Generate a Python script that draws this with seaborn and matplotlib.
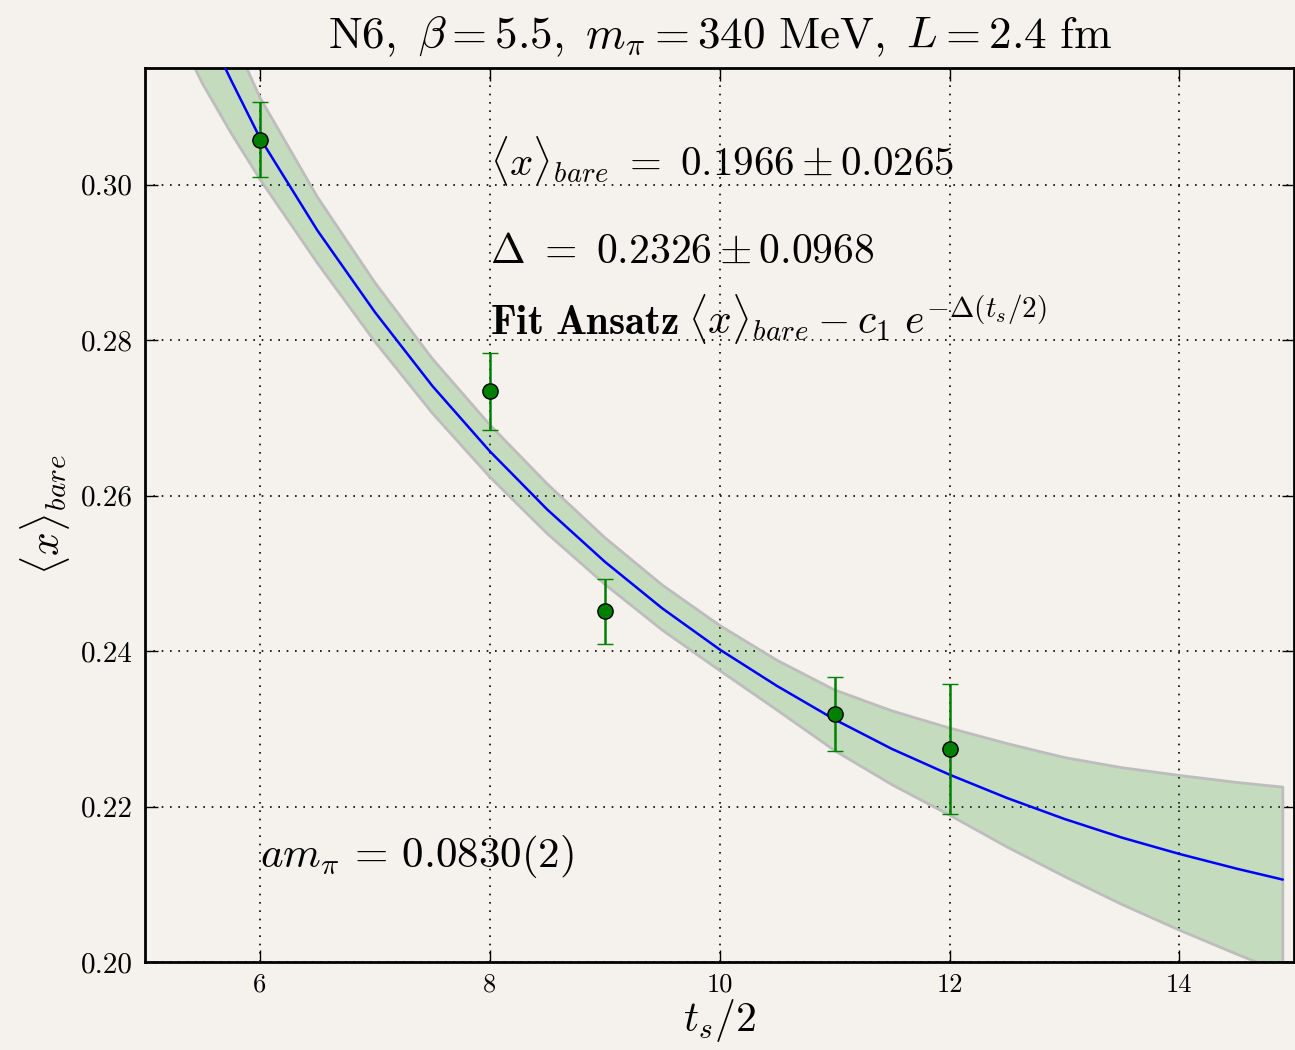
import numpy as np
import pandas as pd
import matplotlib
matplotlib.use("Agg")
import matplotlib.pyplot as plt
import seaborn as sns

# ---- data ----
ts_points = [6, 8, 9, 11, 12]
x_points = [0.3058, 0.2734, 0.2451, 0.2319, 0.2274]
x_errors = [0.0048, 0.0049, 0.0042, 0.0047, 0.0084]

t_curve = [5.25, 5.5, 5.75, 6.0, 6.5, 7.0, 7.5, 8.0, 8.5, 9.0, 9.5, 10.0,
           10.5, 11.0, 11.5, 12.0, 12.5, 13.0, 13.5, 14.0, 14.5, 14.9]
fit_curve = [0.3280, 0.3210, 0.3134, 0.3060, 0.2941, 0.2836, 0.2741, 0.2657, 0.2582, 0.2515,
             0.2455, 0.2402, 0.2355, 0.2312, 0.2274, 0.2241, 0.2211, 0.2184, 0.2160, 0.2139,
             0.2120, 0.2106]
band_upper = [0.3360, 0.3280, 0.3194, 0.3112, 0.2984, 0.2874, 0.2776, 0.2691, 0.2615, 0.2546,
              0.2485, 0.2433, 0.2388, 0.2350, 0.2323, 0.2301, 0.2281, 0.2263, 0.2250, 0.2240,
              0.2231, 0.2225]
band_lower = [0.3205, 0.3130, 0.3066, 0.3007, 0.2899, 0.2798, 0.2706, 0.2624, 0.2551, 0.2486,
              0.2427, 0.2375, 0.2324, 0.2272, 0.2228, 0.2189, 0.2148, 0.2110, 0.2074, 0.2041,
              0.2010, 0.1986]

x_ticks = [6, 8, 10, 12, 14]
y_ticks = [0.20, 0.22, 0.24, 0.26, 0.28, 0.30]
y_tick_labels = ["0.20", "0.22", "0.24", "0.26", "0.28", "0.30"]

title = r"$\mathrm{N6,}\ \beta=5.5,\ m_\pi=340\ \mathrm{MeV},\ L=2.4\ \mathrm{fm}$"
text_x = r"$\langle x\rangle_{bare}\ \mathbf{=\ 0.1966}\pm\mathbf{0.0265}$"
text_delta = r"$\mathbf{\Delta\ =\ 0.2326}\pm\mathbf{0.0968}$"
text_fit_a = r"$\mathbf{Fit\ Ansatz}$"
text_fit_b = r"$\langle x\rangle_{bare}-c_1\ e^{-\Delta(t_s/2)}$"
text_mass = r"$am_\pi\,=\,0.0830(2)$"

# ---- style ----
bg = "#f5f2ed"
sns.set_theme(style="ticks")
plt.rcParams.update({
    "font.family": ["serif"],
    "font.serif": ["cmr10", "DejaVu Serif"],
    "mathtext.fontset": "cm",
    "axes.formatter.use_mathtext": True,
    "figure.facecolor": bg,
    "axes.facecolor": bg,
    "savefig.facecolor": bg,
    "text.color": "black",
    "axes.labelcolor": "black",
    "xtick.color": "black",
    "ytick.color": "black",
})

fig = plt.figure(figsize=(12.95, 10.5), dpi=100)
ax = fig.add_axes([0.112, 0.0838, 0.8875, 0.8514])

ax.fill_between(t_curve, band_lower, band_upper, facecolor=(0.0, 0.5, 0.0, 0.2),
                edgecolor="#bdbdbd", linewidth=2.0, zorder=2)

df_curve = pd.DataFrame({"t": t_curve, "x": fit_curve})
sns.lineplot(data=df_curve, x="t", y="x", ax=ax, color="#0000ff", linewidth=1.8,
             sort=False, estimator=None, zorder=3)

ax.errorbar(ts_points, x_points, yerr=x_errors, fmt="o", color="#008000",
            ecolor="#008000", elinewidth=1.8, capsize=5.6, capthick=1.8,
            markersize=11, markerfacecolor="#008000", markeredgecolor="black",
            markeredgewidth=1.0, zorder=4)

ax.set_xlim(5, 15)
ax.set_ylim(0.20, 0.315)
ax.set_xticks(x_ticks)
ax.set_xticklabels([str(v) for v in x_ticks])
ax.set_yticks(y_ticks)
ax.set_yticklabels(y_tick_labels)

ax.grid(True, color="black", linestyle=(0, (1, 4)), linewidth=1.2)
ax.set_axisbelow(True)
for sp in ax.spines.values():
    sp.set_linewidth(2.0)
    sp.set_color("black")
    sp.set_visible(True)
ax.tick_params(direction="in", length=9, width=1.0, top=True, right=True,
               colors="black")
ax.tick_params(axis="x", labelsize=19, pad=8)
ax.tick_params(axis="y", labelsize=21, pad=9)

ax.set_title(title, fontsize=32.5, pad=14)
ax.set_xlabel(r"$t_s/2$", fontsize=30, labelpad=0)
ax.set_ylabel(r"$\langle x\rangle_{bare}$", fontsize=30, labelpad=6)

ax.text(8.0, 0.3012, text_x, fontsize=29.5, va="baseline", ha="left", zorder=5)
ax.text(8.0, 0.2900, text_delta, fontsize=30, va="baseline", ha="left", zorder=5)
ax.text(8.0, 0.2808, text_fit_a, fontsize=29.5, va="baseline", ha="left", zorder=5)
ax.text(9.72, 0.2808, text_fit_b, fontsize=30, va="baseline", ha="left", zorder=5)
ax.text(6.0, 0.2122, text_mass, fontsize=31, va="baseline", ha="left", zorder=5)

fig.savefig("out.png", dpi=100)
